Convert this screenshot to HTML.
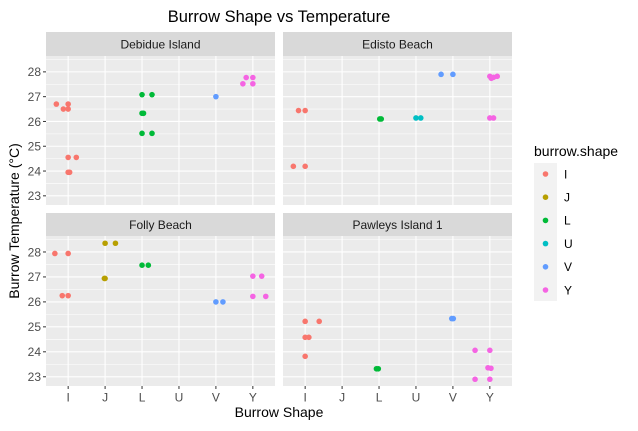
<!DOCTYPE html>
<html><head><meta charset="utf-8"><style>
html,body{margin:0;padding:0;background:#fff;}
svg{display:block;font-family:"Liberation Sans",Arial,sans-serif;}
</style></head><body>
<svg id="chart" width="638" height="431" viewBox="0 0 638 431"></svg>
<script>
const categories = ["I","J","L","U","V","Y"];
const yTicks = [23,24,25,26,27,28];
const panels = ["Debidue Island","Edisto Beach","Folly Beach","Pawleys Island 1"];
const colors = {I:"#F8766D",J:"#B79F00",L:"#00BA38",U:"#00BFC4",V:"#619CFF",Y:"#F564E3"};
// each point: [panelIndex, shape, jitterOffset, temperature]
const debiduePoints = [
 [0,"I",-0.32,26.7],[0,"I",-0.13,26.5],[0,"I",0,26.7],[0,"I",0,26.5],[0,"I",0,24.55],[0,"I",0.22,24.55],[0,"I",0,23.95],[0,"I",0.04,23.95],
 [0,"L",0,27.08],[0,"L",0.27,27.08],[0,"L",0,26.33],[0,"L",0.04,26.33],[0,"L",0,25.52],[0,"L",0.27,25.52],
 [0,"V",0,27.0],
 [0,"Y",-0.18,27.77],[0,"Y",0,27.77],[0,"Y",-0.27,27.52],[0,"Y",0,27.52]];
const edistoPoints = [
 [1,"I",-0.18,26.44],[1,"I",0,26.44],[1,"I",-0.32,24.19],[1,"I",0,24.19],
 [1,"L",0.02,26.1],[1,"L",0.06,26.1],
 [1,"U",0,26.14],[1,"U",0.13,26.14],
 [1,"V",-0.32,27.9],[1,"V",0,27.9],
 [1,"Y",0,27.82],[1,"Y",0.1,27.78],[1,"Y",0.2,27.82],[1,"Y",0.04,27.74],[1,"Y",0,26.14],[1,"Y",0.1,26.14]];
const follyPoints = [
 [2,"I",-0.36,27.94],[2,"I",0,27.94],[2,"I",-0.16,26.25],[2,"I",0,26.25],
 [2,"J",0,28.35],[2,"J",0.28,28.35],[2,"J",-0.02,26.94],[2,"J",0,26.94],
 [2,"L",0,27.47],[2,"L",0.17,27.47],
 [2,"V",0,26.0],[2,"V",0.19,26.0],
 [2,"Y",0,27.03],[2,"Y",0.24,27.03],[2,"Y",0,26.22],[2,"Y",0.35,26.22]];
const pawleysPoints = [
 [3,"I",0,25.22],[3,"I",0.38,25.22],[3,"I",0,24.58],[3,"I",0.1,24.58],[3,"I",0,23.82],
 [3,"L",-0.07,23.32],[3,"L",-0.02,23.32],
 [3,"V",-0.03,25.33],[3,"V",0.01,25.33],
 [3,"Y",-0.4,24.06],[3,"Y",0,24.06],[3,"Y",-0.05,23.36],[3,"Y",0.03,23.34],[3,"Y",-0.4,22.9],[3,"Y",0,22.9]];

const NS="http://www.w3.org/2000/svg";
const svg=document.getElementById("chart");
function mk(tag,attrs,parent){const e=document.createElementNS(NS,tag);for(const k in attrs)e.setAttribute(k,attrs[k]);(parent||svg).appendChild(e);return e;}
const yMin=22.63,yMax=28.64;
const layout=[{x0:46,x1:275,s0:32,p0:56,p1:205},{x0:283,x1:512,s0:32,p0:56,p1:205},{x0:46,x1:275,s0:213,p0:236,p1:386},{x0:283,x1:512,s0:213,p0:236,p1:386}];
function xScale(L,i){const step=(L.x1-L.x0)/6.2;return L.x0+step*(0.6+i);}
function yScale(L,v){return L.p1-(v-yMin)/(yMax-yMin)*(L.p1-L.p0);}

mk("text",{x:279,y:22,"font-size":"16.5","text-anchor":"middle",fill:"#000",}).textContent="Burrow Shape vs Temperature";

panels.forEach((name,pi)=>{
 const L=layout[pi];
 const g=mk("g",{});
 
 
 mk("rect",{x:L.x0,y:L.s0,width:L.x1-L.x0,height:L.p0-L.s0,fill:"#D9D9D9"},g);
 mk("text",{x:(L.x0+L.x1)/2,y:(L.s0+L.p0)/2+4.5,"font-size":"12","text-anchor":"middle",fill:"#1A1A1A"},g).textContent=name;
 mk("rect",{x:L.x0,y:L.p0,width:L.x1-L.x0,height:L.p1-L.p0,fill:"#EBEBEB"},g);
 for(let t=22.5;t<=28.6;t+=1){const y=yScale(L,t);if(y>L.p0&&y<L.p1)mk("line",{x1:L.x0,x2:L.x1,y1:y,y2:y,stroke:"#fff","stroke-width":0.55},g);}
 yTicks.forEach(t=>{const y=yScale(L,t);mk("line",{x1:L.x0,x2:L.x1,y1:y,y2:y,stroke:"#fff","stroke-width":1.1},g);});
 categories.forEach((c,i)=>{const x=xScale(L,i);mk("line",{x1:x,x2:x,y1:L.p0,y2:L.p1,stroke:"#fff","stroke-width":1.1},g);});
 if(pi%2===0){yTicks.forEach(t=>{const y=yScale(L,t);
   mk("line",{x1:L.x0-3,x2:L.x0,y1:y,y2:y,stroke:"#333","stroke-width":1},g);
   const tx=mk("text",{x:L.x0-5,y:y+4.3,"font-size":"12","text-anchor":"end",fill:"#4D4D4D"},g);
   
   
   tx.textContent=t;});}
 if(pi>=2){categories.forEach((c,i)=>{const x=xScale(L,i);
   mk("line",{x1:x,x2:x,y1:L.p1,y2:L.p1+3,stroke:"#333","stroke-width":1},g);
   const tx=mk("text",{x:x,y:L.p1+15.5,"font-size":"12","text-anchor":"middle",fill:"#4D4D4D"},g);
   
   
   tx.textContent=c;});}
});

[debiduePoints,edistoPoints,follyPoints,pawleysPoints].forEach(arr=>arr.forEach(p=>{
 const L=layout[p[0]];const i=categories.indexOf(p[1]);
 const c=mk("circle",{cx:xScale(L,i+p[2]),cy:yScale(L,p[3]),r:2.8,fill:colors[p[1]]});
 
 
}));

mk("text",{x:279,y:417,"font-size":"14","text-anchor":"middle",fill:"#000",}).textContent="Burrow Shape";
mk("text",{x:0,y:0,"font-size":"14","text-anchor":"middle",fill:"#000",transform:"translate(19,221) rotate(-90)",}).textContent="Burrow Temperature (°C)";

const lg=mk("g",{});
mk("text",{x:534,y:156,"font-size":"14",fill:"#000"},lg).textContent="burrow.shape";
mk("rect",{x:534,y:163,width:23,height:138,fill:"#F2F2F2"},lg);
categories.forEach((c,i)=>{const y=174+i*23.2;
 const e=mk("circle",{cx:545.5,cy:y,r:2.8,fill:colors[c]},lg);
 
 
 const t=mk("text",{x:564,y:y+4.3,"font-size":"12",fill:"#000"},lg);
 
 
 t.textContent=c;});
</script>
</body></html>
